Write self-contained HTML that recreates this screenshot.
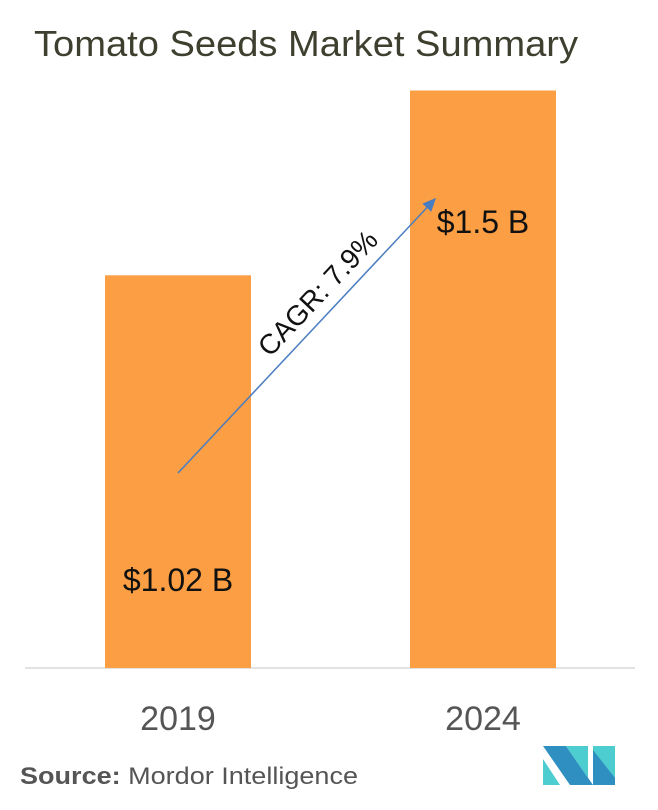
<!DOCTYPE html>
<html><head><meta charset="utf-8"><style>
body{margin:0;background:#fff;}
svg{display:block;font-family:"Liberation Sans",sans-serif;}
</style></head><body>
<svg id="chart" width="658" height="810" viewBox="0 0 658 810">
<text x="34" y="56" font-size="36" fill="#3f3f2f" textLength="544" lengthAdjust="spacingAndGlyphs">Tomato Seeds Market Summary</text>
<line x1="25" y1="668" x2="635" y2="668" stroke="#d9d9d9" stroke-width="1.5"/>
<g id="bars"></g>
<defs><marker id="ah" markerWidth="10" markerHeight="10" refX="8" refY="5" orient="auto"><path d="M0,1 L9,5 L0,9 z" fill="#4a7dbf"/></marker></defs>
<line x1="178" y1="473" x2="435" y2="199" stroke="#4a7dbf" stroke-width="1.5" marker-end="url(#ah)"/>
<text x="0" y="0" font-size="28" fill="#111" textLength="160" lengthAdjust="spacingAndGlyphs" transform="translate(270,358) rotate(-46.8)">CAGR: 7.9%</text>
<text x="20" y="784" font-size="24" fill="#555" textLength="338" lengthAdjust="spacingAndGlyphs"><tspan font-weight="bold">Source:</tspan> Mordor Intelligence</text>
<g>
<polygon points="543,746 566,746 593,785 570,785 543,746" fill="#2f8fc0"/>
<polygon points="543,759 560,785 543,785" fill="#4dcdd0"/>
<polygon points="566,746 588,746 588,778" fill="#4dcdd0"/>
<polygon points="593,746 615,746 615,785 593,785" fill="#4dcdd0"/>
<polygon points="593,750 615,778 615,785 593,785" fill="#2f8fc0"/>
</g>
</svg>
<script>
const categories=["2019","2024"];
const values=[1.02,1.5];
const valueLabels=["$1.02 B","$1.5 B"];
const base=668, scale=385, barW=146;
const centers=[178,483];
function y(v){return base-v*scale;}
const ns="http://www.w3.org/2000/svg";
const g=document.getElementById("bars");
categories.forEach((c,i)=>{
 const r=document.createElementNS(ns,"rect");
 
 
 r.setAttribute("x",centers[i]-barW/2);r.setAttribute("width",barW);
 r.setAttribute("y",y(values[i]));r.setAttribute("height",base-y(values[i]));
 r.setAttribute("fill","#fb9e44");g.appendChild(r);
 const t=document.createElementNS(ns,"text");
 
 
 t.setAttribute("x",centers[i]);t.setAttribute("y",730);t.setAttribute("text-anchor","middle");
 t.setAttribute("font-size","34");t.setAttribute("fill","#555");t.textContent=c;g.appendChild(t);
 const v=document.createElementNS(ns,"text");
 
 
 v.setAttribute("x",centers[i]);
 v.setAttribute("y",i===0?591:233);
 v.setAttribute("text-anchor","middle");v.setAttribute("font-size","32");v.setAttribute("fill","#111");
 v.textContent=valueLabels[i];g.appendChild(v);
});
</script>
</body></html>
